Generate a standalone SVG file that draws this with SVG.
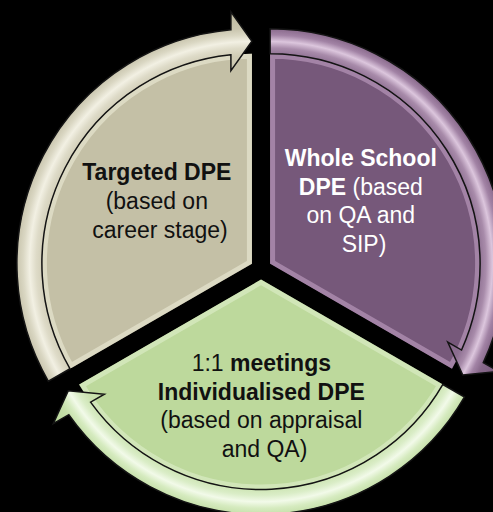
<svg xmlns="http://www.w3.org/2000/svg" xmlns:xlink="http://www.w3.org/1999/xlink" width="493" height="512" viewBox="0 0 493 512">
  <style>
    .lbl { font-family: "Liberation Sans", Arial, sans-serif; font-size: 23px; text-anchor: middle; }
    .dark { fill: #111111; }
    .light { fill: #FFFFFF; }
    .b { font-weight: bold; }
    .band { stroke: #141414; stroke-width: 1.5; stroke-linejoin: miter; }
    .bevel { fill: none; stroke-width: 10; opacity: 0.55; }
  </style>
  <defs>
    <path id="sector" d="M -9.093 -5.25 L -190.958 99.75 A 210 210 0 0 1 -9.093 -215.25 Z"/>
    <path id="arrow" d="M -190.958 99.75 L -212.609 112.25 A 235 235 0 0 1 -30.093 -239.31 L -30.093 -257.25 L -9.093 -227.75 L -30.093 -198.25 L -30.093 -214.197 A 210 210 0 0 0 -190.958 99.75 Z"/>
    <clipPath id="clipSector" clipPathUnits="userSpaceOnUse">
      <use xlink:href="#sector" href="#sector"/>
    </clipPath>
    <radialGradient id="gTan" gradientUnits="userSpaceOnUse" cx="-9.093" cy="-5.25" r="260">
      <stop offset="0.74" stop-color="#C9C5AC"/>
      <stop offset="0.80" stop-color="#D0CCB5"/>
      <stop offset="0.83" stop-color="#DEDBC8"/>
      <stop offset="0.855" stop-color="#F2F0E3"/>
      <stop offset="0.88" stop-color="#DAD7C3"/>
      <stop offset="0.905" stop-color="#C9C5AE"/>
      <stop offset="0.97" stop-color="#BEBA9F"/>
    </radialGradient>
    <radialGradient id="gPur" gradientUnits="userSpaceOnUse" cx="-9.093" cy="-5.25" r="260">
      <stop offset="0.74" stop-color="#86678A"/>
      <stop offset="0.80" stop-color="#8C6E90"/>
      <stop offset="0.83" stop-color="#A88BAA"/>
      <stop offset="0.855" stop-color="#DCC6DD"/>
      <stop offset="0.88" stop-color="#A283A5"/>
      <stop offset="0.905" stop-color="#88698B"/>
      <stop offset="0.97" stop-color="#785A7B"/>
    </radialGradient>
    <radialGradient id="gGrn" gradientUnits="userSpaceOnUse" cx="-9.093" cy="-5.25" r="260">
      <stop offset="0.74" stop-color="#C6E0A8"/>
      <stop offset="0.80" stop-color="#CBE3B0"/>
      <stop offset="0.83" stop-color="#DAEDC7"/>
      <stop offset="0.855" stop-color="#F2FAE9"/>
      <stop offset="0.88" stop-color="#D6EBC0"/>
      <stop offset="0.905" stop-color="#C6E0AA"/>
      <stop offset="0.97" stop-color="#B7D698"/>
    </radialGradient>
  </defs>

  <rect x="0" y="0" width="493" height="512" fill="#000000"/>

  <g id="node-targeted">
    <g transform="translate(261,269)">
      <use xlink:href="#sector" href="#sector" fill="#C4C0A6"/>
      <use xlink:href="#sector" href="#sector" class="bevel" stroke="#F1EEDB" clip-path="url(#clipSector)"/>
    </g>
    <text class="lbl dark">
      <tspan x="160" y="179.5" class="b">Targeted DPE</tspan>
      <tspan x="160" y="208.6">(based on</tspan>
      <tspan x="160" y="237.7">career stage)</tspan>
    </text>
  </g>

  <g id="node-whole-school">
    <g transform="translate(261,269) rotate(120)">
      <use xlink:href="#sector" href="#sector" fill="#76587A"/>
      <use xlink:href="#sector" href="#sector" class="bevel" stroke="#C8A8CA" clip-path="url(#clipSector)"/>
    </g>
    <text class="lbl light">
      <tspan x="364" y="166" class="b">Whole School</tspan>
      <tspan x="364" y="195"><tspan class="b">DPE</tspan> (based</tspan>
      <tspan x="364" y="223.3">on QA and</tspan>
      <tspan x="364" y="251.7">SIP)</tspan>
    </text>
  </g>

  <g id="node-individualised">
    <g transform="translate(261,269) rotate(240)">
      <use xlink:href="#sector" href="#sector" fill="#BDD99C"/>
      <use xlink:href="#sector" href="#sector" class="bevel" stroke="#E2F1D0" clip-path="url(#clipSector)"/>
    </g>
    <text class="lbl dark">
      <tspan x="264.5" y="371">1:1 <tspan class="b">meetings</tspan></tspan>
      <tspan x="264.5" y="400" class="b">Individualised DPE</tspan>
      <tspan x="264.5" y="428.3">(based on appraisal</tspan>
      <tspan x="264.5" y="456.7">and QA)</tspan>
    </text>
  </g>

  <g id="connectors">
    <use id="arrow-targeted" xlink:href="#arrow" href="#arrow" class="band" fill="url(#gTan)" transform="translate(261,269)"/>
    <use id="arrow-whole-school" xlink:href="#arrow" href="#arrow" class="band" fill="url(#gPur)" transform="translate(261,269) rotate(120)"/>
    <use id="arrow-individualised" xlink:href="#arrow" href="#arrow" class="band" fill="url(#gGrn)" transform="translate(261,269) rotate(240)"/>
  </g>
</svg>
